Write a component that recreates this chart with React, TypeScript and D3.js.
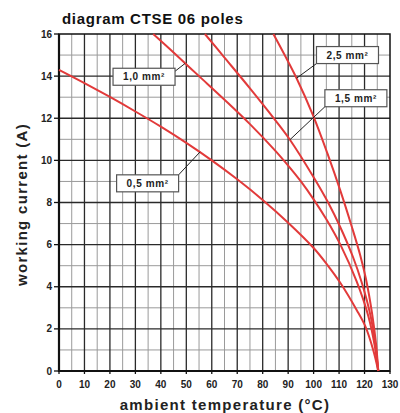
import React from 'react';
import * as d3 from 'd3';

type Pt = [number, number];

const xTicks = [0, 10, 20, 30, 40, 50, 60, 70, 80, 90, 100, 110, 120, 130];
const yTicks = [0, 2, 4, 6, 8, 10, 12, 14, 16];

// ampacity curves (°C, A)
const curve05: Pt[] = [
  [0, 14.3], [10, 13.67], [20, 13.01], [30, 12.32], [40, 11.6], [50, 10.83], [60, 10.0],
  [70, 9.1], [80, 8.12], [90, 7.04], [100, 5.84], [105, 5.1], [110.4, 4.2], [116.9, 2.9],
  [120.2, 2.15], [123.4, 1.0], [125.4, 0],
];
const curve10: Pt[] = [
  [37, 16], [45, 15.12], [55, 14.0], [65, 12.88], [75, 11.72], [85, 10.45], [90, 9.75],
  [95, 9.0], [100, 8.15], [105, 7.2], [110.7, 5.95], [116.9, 4.25], [121.5, 2.6], [124, 1.2],
  [125.4, 0],
];
const curve15: Pt[] = [
  [57.3, 16], [65, 14.88], [75, 13.42], [85, 11.9], [90.7, 10.98], [100, 9.2], [105.7, 8.0],
  [110.4, 6.85], [115.5, 5.4], [118.9, 4.2], [122.4, 2.6], [124.3, 1.2], [125.4, 0],
];
const curve25: Pt[] = [
  [84.2, 16], [93.3, 13.9], [99.9, 12.1], [105.8, 10.2], [110.4, 8.6], [115, 6.85], [118.3, 5.5],
  [120.5, 4.4], [123, 2.7], [124.5, 1.3], [125.4, 0],
];

const curves = [curve05, curve10, curve15, curve25];

// label boxes: centre and pointer target, in data units
const labels = [
  { text: '0,5 mm²', cx: 34.8, cy: 8.91, tx: 55.4, ty: 10.4, from: 'tr' },
  { text: '1,0 mm²', cx: 33.4, cy: 13.97, tx: 49.5, ty: 14.6, from: 'r' },
  { text: '1,5 mm²', cx: 116.6, cy: 12.95, tx: 90.7, ty: 10.98, from: 'bl' },
  { text: '2,5 mm²', cx: 113.3, cy: 15.0, tx: 93.3, ty: 13.9, from: 'bl' },
];

const W = 400;
const H = 413;
const m = { left: 59, right: 10, top: 34, bottom: 42 };
const font = '"Liberation Sans", Arial, sans-serif';

const App: React.FC = () => {
  const x = d3.scaleLinear().domain([0, 130]).range([m.left, W - m.right]);
  const y = d3.scaleLinear().domain([0, 16]).range([H - m.bottom, m.top]);

  const line = d3
    .line<Pt>()
    .x(d => x(d[0]))
    .y(d => y(d[1]))
    .curve(d3.curveCatmullRom.alpha(0.5));

  const minorX = d3.range(5, 130, 10);
  const minorY = d3.range(1, 16, 2);
  const bw = 62;
  const bh = 17;

  return (
    <div style={{ position: 'absolute', left: 0, top: 0 }}>
      <svg width={W} height={H} style={{ display: 'block', background: '#fff' }}>
        <text x={62} y={24} fontFamily={font} fontWeight="bold" fontSize={15} letterSpacing={0.7} fill="#111">
          diagram CTSE 06 poles
        </text>

        {/* grid */}
        {minorX.map(v => (
          <line key={'mx' + v} x1={x(v)} x2={x(v)} y1={y(16)} y2={y(0)} stroke="#9a9a9a" strokeWidth={1} />
        ))}
        {minorY.map(v => (
          <line key={'my' + v} x1={x(0)} x2={x(130)} y1={y(v)} y2={y(v)} stroke="#9a9a9a" strokeWidth={1} />
        ))}
        {xTicks.slice(1, -1).map(v => (
          <line key={'gx' + v} x1={x(v)} x2={x(v)} y1={y(16)} y2={y(0)} stroke="#2a2a2a" strokeWidth={1.3} />
        ))}
        {yTicks.slice(1, -1).map(v => (
          <line key={'gy' + v} x1={x(0)} x2={x(130)} y1={y(v)} y2={y(v)} stroke="#2a2a2a" strokeWidth={1.3} />
        ))}

        {/* frame */}
        <rect x={x(0)} y={y(16)} width={x(130) - x(0)} height={y(0) - y(16)} fill="none" stroke="#111" strokeWidth={1.5} />
        <line x1={x(0)} x2={x(0)} y1={y(16)} y2={y(0) + 1} stroke="#111" strokeWidth={2.2} />
        <line x1={x(0) - 1} x2={x(130)} y1={y(0)} y2={y(0)} stroke="#111" strokeWidth={2.2} />

        {/* y ticks */}
        {yTicks.map(v => (
          <g key={'yt' + v}>
            <line x1={x(0) - 5} x2={x(0)} y1={y(v)} y2={y(v)} stroke="#111" strokeWidth={1.3} />
            <text x={x(0) - 7} y={y(v)} dy="0.35em" textAnchor="end" fontFamily={font} fontWeight="bold" fontSize={10} fill="#222">
              {v}
            </text>
          </g>
        ))}
        {/* x ticks */}
        {xTicks.map(v => (
          <g key={'xt' + v}>
            <line x1={x(v)} x2={x(v)} y1={y(0)} y2={y(0) + 3} stroke="#111" strokeWidth={1.3} />
            <text x={x(v)} y={y(0) + 17} textAnchor="middle" fontFamily={font} fontWeight="bold" fontSize={10} fill="#222">
              {v}
            </text>
          </g>
        ))}

        {/* curves */}
        {curves.map((c, i) => (
          <path key={'c' + i} d={line(c) || ''} fill="none" stroke="#e23a3a" strokeWidth={2} />
        ))}

        {/* labels */}
        {labels.map(l => {
          const cx = x(l.cx);
          const cy = y(l.cy);
          const left = cx - bw / 2;
          const top = cy - bh / 2;
          let sx = left;
          let sy = top + bh;
          if (l.from === 'tr') {
            sx = left + bw;
            sy = top;
          } else if (l.from === 'r') {
            sx = left + bw;
            sy = top + 3;
          }
          return (
            <g key={l.text}>
              <line x1={sx} y1={sy} x2={x(l.tx)} y2={y(l.ty)} stroke="#222" strokeWidth={1} />
              <rect x={left} y={top} width={bw} height={bh} fill="#fff" stroke="#555" strokeWidth={1.2} />
              <text x={cx} y={cy} dy="0.35em" textAnchor="middle" fontFamily={font} fontWeight="bold" fontSize={10} letterSpacing={0.6} fill="#222">
                {l.text}
              </text>
            </g>
          );
        })}

        {/* axis titles */}
        <text x={225} y={410} textAnchor="middle" fontFamily={font} fontWeight="bold" fontSize={15} letterSpacing={1.3} fill="#222">
          ambient temperature (°C)
        </text>
        <text
          transform={`translate(27, ${(y(0) + y(16)) / 2 + 2}) rotate(-90)`}
          textAnchor="middle"
          fontFamily={font}
          fontWeight="bold"
          fontSize={15}
          letterSpacing={1.3}
          fill="#222"
        >
          working current (A)
        </text>
      </svg>
    </div>
  );
};

export default App;
